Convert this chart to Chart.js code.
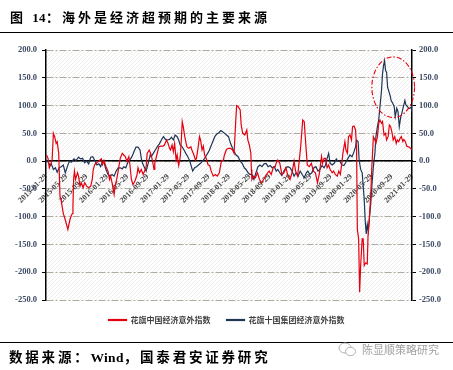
<!DOCTYPE html>
<html><head><meta charset="utf-8">
<script src="https://cdn.jsdelivr.net/npm/chart.js@4.4.0/dist/chart.umd.min.js"></script>
<style>
html,body{margin:0;padding:0;background:#fff;width:453px;height:370px;overflow:hidden;}
#wrap{position:relative;width:453px;height:370px;}
#c{position:absolute;left:0;top:0;}
.title{position:absolute;left:10px;top:11px;line-height:14px;font-weight:bold;font-size:13px;font-family:"Liberation Serif","Noto Sans CJK SC";letter-spacing:3px;color:#000;white-space:nowrap;}
.rule{position:absolute;left:0;width:453px;height:0;border-top:1.5px solid #000;}
.foot{position:absolute;left:9px;top:350px;line-height:15px;font-weight:bold;font-size:13.5px;font-family:"Liberation Serif","Noto Sans CJK SC";letter-spacing:2.8px;color:#000;white-space:nowrap;}
.ns{letter-spacing:0.3px;}
.wm{position:absolute;left:362px;top:343px;line-height:12px;font-size:11px;font-family:"Noto Sans CJK SC";color:#a0a0a0;white-space:nowrap;}
.icon{position:absolute;left:338px;top:342px;}
</style>
</head>
<body>
<div id="wrap">
<canvas id="c" width="453" height="370"></canvas>
<div class="title">图 <span class="ns">14</span>：海外是经济超预期的主要来源</div>
<div class="rule" style="top:31.5px"></div>
<div class="rule" style="top:341.5px"></div>
<div class="foot">数据来源：<span class="ns">Wind</span>，国泰君安证券研究</div>
<svg class="icon" width="20" height="16" viewBox="0 0 20 16"><ellipse cx="7" cy="6" rx="6" ry="5" fill="none" stroke="#b0b0b0" stroke-width="1"/><ellipse cx="12.5" cy="9.5" rx="5" ry="4.2" fill="#fff" stroke="#b0b0b0" stroke-width="1"/></svg>
<div class="wm">陈显顺策略研究</div>
</div>
<script>
// x values: months since 2015-01-29
const tickLabels = ['2015-01-29','2015-05-29','2015-09-29','2016-01-29','2016-05-29','2016-09-29','2017-01-29','2017-05-29','2017-09-29','2018-01-29','2018-05-29','2018-09-29','2019-01-29','2019-05-29','2019-09-29','2020-01-29','2020-05-29','2020-09-29','2021-01-29'];

const chinaT = [0.1,0.4,0.65,0.9,1.2,1.45,1.7,2.0,2.2,2.5,2.75,3.0,3.4,3.8,4.3,4.7,5.0,5.25,5.3,5.45,5.6,5.8,6.2,6.4,6.7,6.95,7.3,7.6,8.0,8.4,8.8,9.1,9.3,9.6,10.0,10.4,10.6,10.9,11.1,11.4,11.8,12.2,12.5,12.7,13.0,13.4,13.6,13.9,14.2,14.6,15.0,15.3,15.6,15.9,16.3,16.5,16.8,17.1,17.5,17.9,18.1,18.4,18.75,19.1,19.4,19.7,19.9,20.3,20.7,21.1,21.25,21.4,21.8,22.2,22.6,23.0,23.3,23.7,24.0,24.3,24.5,24.8,25.05,25.3,25.6,25.8,26.1,26.4,26.6,26.8,27.0,27.3,27.7,28.1,28.5,28.7,29.1,29.4,29.6,29.9,30.2,30.4,30.7,30.95,31.2,31.5,31.9,32.2,32.5,32.9,33.3,33.7,34.1,34.5,34.9,35.1,35.5,35.9,36.3,36.7,37.0,37.3,37.5,37.8,38.2,38.4,38.7,39.1,39.5,39.7,40.0,40.3,40.4,40.5,40.8,41.2,41.6,42.0,42.4,42.8,43.2,43.6,43.9,44.3,44.7,45.1,45.4,45.6,46.0,46.4,46.8,47.2,47.6,48.0,48.4,48.8,49.1,49.5,49.7,50.1,50.5,50.8,51.0,51.4,51.8,52.2,52.6,53.0,53.4,53.8,54.2,54.4,54.7,55.0,55.3,55.6,55.9,56.3,56.6,56.9,57.3,57.6,57.9,58.2,58.4,58.8,59.0,59.3,59.5,59.8,60.1,60.3,60.6,60.9,61.1,61.25,61.5,61.7,61.9,62.2,62.4,62.6,62.9,63.2,63.35,63.6,63.9,64.1,64.4,64.7,64.9,65.2,65.45,65.7,66.0,66.2,66.5,66.8,67.0,67.3,67.55,67.8,68.1,68.3,68.6,68.9,69.1,69.4,69.65,69.9,70.2,70.4,70.7,70.95,71.2,71.5,71.7,72.0];
const chinaV = [11,5,-12,-6,2,50,44,32,35,14,-63,-72,-94,-106,-123,-106,-97,-94,-80,-30,-18,-33,-21,-27,-45,-39,-48,-39,-45,-48,-45,-33,-15,-6,-3,0,2,4,-6,1,-10,-18,-33,-27,-39,-60,-45,-33,-18,5,14,11,8,0,8,-6,-33,-42,-36,-25,-12,-21,-15,-24,-18,-10,14,20,11,-7,-15,-4,11,26,27,27,29,38,32,23,20,29,17,32,2,11,-8,7,35,71,62,44,26,23,26,20,11,2,5,23,44,38,20,27,11,5,-7,-8,-18,-27,-24,-27,-21,0,2,11,21,23,23,20,14,68,100,98,92,65,50,47,56,38,29,14,-15,-33,-27,-30,-21,-33,-39,-33,-27,-21,-18,-24,-12,-10,0,2,-4,-24,-21,-12,-27,-33,-21,0,-18,-27,-10,26,74,71,44,-7,-10,-4,-18,-21,-39,-21,8,-4,5,5,-12,-7,-15,-21,-18,-24,-27,-18,-24,-4,14,35,20,14,44,47,38,62,63,56,20,-123,-140,-236,-188,-140,-140,-188,-183,-185,-134,-105,-57,-10,44,38,32,44,68,74,68,71,47,50,38,44,65,62,50,38,44,32,38,35,41,44,35,39,35,27,26,25,23,21];

const g10T = [0.1,0.5,0.8,1.05,1.45,1.85,2.2,2.6,3.0,3.4,3.8,4.2,4.6,5.0,5.5,5.9,6.4,6.8,7.2,7.6,8.0,8.4,8.8,9.2,9.6,10.0,10.4,10.75,11.1,11.4,11.8,12.2,12.6,13.0,13.4,13.8,14.2,14.6,15.0,15.3,15.7,16.1,16.5,16.9,17.3,17.7,18.1,18.5,18.75,19.0,19.3,19.7,20.1,20.5,20.7,21.1,21.5,21.9,22.3,22.7,23.1,23.5,23.9,24.3,24.7,25.05,25.4,25.8,26.1,26.4,26.75,27.15,27.5,27.9,28.3,28.6,28.85,29.25,29.6,30.0,30.4,30.8,31.2,31.6,32.0,32.4,32.8,33.2,33.6,34.0,34.4,34.75,35.15,35.5,35.9,36.3,36.7,37.0,37.4,37.8,38.2,38.6,39.0,39.35,39.75,40.1,40.5,40.9,41.3,41.7,42.1,42.5,42.9,43.3,43.7,44.1,44.5,44.9,45.3,45.6,46.0,46.4,46.8,47.2,47.6,48.0,48.4,48.8,49.2,49.6,50.0,50.4,50.8,51.2,51.5,51.9,52.3,52.7,53.1,53.5,53.9,54.3,54.7,55.0,55.3,55.6,55.9,56.3,56.7,57.1,57.4,57.8,58.2,58.6,59.0,59.4,59.8,60.2,60.6,60.9,61.1,61.4,61.6,61.9,62.2,62.4,62.6,62.8,63.0,63.2,63.4,63.6,63.9,64.1,64.4,64.7,64.9,65.2,65.45,65.7,66.0,66.2,66.4,66.6,66.8,67.0,67.2,67.4,67.7,67.9,68.2,68.5,68.7,69.0,69.25,69.5,69.8,70.0,70.3,70.6,70.8,71.1,71.35,71.6,71.9,72.0];
const g10V = [2,-3,-8,-5,-15,-12,-20,-12,-10,-7,-21,-10,0,-2,4,1,7,4,5,-3,0,-5,7,8,1,-7,-5,-10,0,-2,-15,-24,-27,-24,-27,-18,-12,-12,-14,-10,-12,-2,2,8,17,25,25,20,5,-4,-10,-18,-4,11,8,14,20,26,31,38,44,39,38,39,43,38,47,44,38,29,26,20,14,8,0,-10,-18,-12,-10,-7,-4,0,5,11,17,26,35,44,49,51,55,53,50,47,44,32,23,17,11,8,0,-4,-12,-15,-21,-24,-24,-33,-21,-10,-7,-10,-5,-4,-10,-8,-12,-10,-18,-15,-21,-26,-18,-12,-10,-12,-18,-27,-21,-27,-18,-24,-30,-21,-18,-24,-21,-12,-10,-18,-15,-8,-12,-7,5,14,-4,-7,-4,4,0,0,-7,-8,-2,5,11,8,17,26,38,35,2,-15,-21,-45,-69,-108,-131,-114,-126,-105,-75,-45,-10,14,44,62,74,98,127,157,172,181,163,160,133,127,118,109,104,98,80,95,89,62,80,86,98,109,101,98,95,95,98,88];

const seriesNames = ['花旗中国经济意外指数','花旗十国集团经济意外指数'];

const hatch = {
  id:'hatch',
  beforeDraw(chart){
    const {ctx, chartArea:a} = chart;
    ctx.save();
    ctx.beginPath(); ctx.rect(a.left,a.top,a.right-a.left,a.bottom-a.top); ctx.clip();
    ctx.strokeStyle='#eeeeee'; ctx.lineWidth=1;
    const h=a.bottom-a.top;
    ctx.beginPath();
    for(let x=a.left-h; x<a.right; x+=4){
      ctx.moveTo(x, a.bottom); ctx.lineTo(x+h, a.top);
    }
    ctx.stroke();
    ctx.restore();
  }
};
const ring = {
  id:'ring',
  afterDatasetsDraw(chart){
    const {ctx, scales:{x,y}} = chart;
    const cx=x.getPixelForValue(68.3), cy=y.getPixelForValue(133);
    const rx=x.getPixelForValue(72.5)-cx, ry=cy-y.getPixelForValue(187.6);
    ctx.save();
    ctx.strokeStyle='#e3000f'; ctx.lineWidth=1.1; ctx.setLineDash([5,2,1.5,2]);
    ctx.beginPath(); ctx.ellipse(cx,cy,rx,ry,0,0,Math.PI*2); ctx.stroke();
    ctx.restore();
  }
};

const tickFont = {family:'"Liberation Serif"', size:8.5, weight:'bold'};
const yTicks = {stepSize:50, padding:5, color:'#3d4a62', font:tickFont, callback:v=>v.toFixed(1)};

new Chart(document.getElementById('c'), {
  type:'line',
  data:{datasets:[
    {label:seriesNames[0], data:chinaT.map((t,i)=>({x:t,y:chinaV[i]})), borderColor:'#e3000f', backgroundColor:'#e3000f', borderWidth:1.2, pointRadius:0, tension:0, yAxisID:'y'},
    {label:seriesNames[1], data:g10T.map((t,i)=>({x:t,y:g10V[i]})), borderColor:'#1f3556', backgroundColor:'#1f3556', borderWidth:1.2, pointRadius:0, tension:0, yAxisID:'y'}
  ]},
  options:{
    responsive:false, animation:false, devicePixelRatio:1,
    layout:{padding:{top:50,bottom:36,left:0,right:0}},
    plugins:{
      legend:{position:'bottom', labels:{boxWidth:18, boxHeight:1, padding:16, color:'#404040', font:{family:'"Noto Sans CJK SC"', size:8, weight:'bold'}}},
      tooltip:{enabled:false}
    },
    scales:{
      x:{type:'linear', min:0, max:72, position:{y:0},
         grid:{display:false}, border:{display:true, color:'#000', width:1.5},
         afterBuildTicks:s=>{ s.ticks = tickLabels.map((l,i)=>({value:i*4})); },
         ticks:{autoSkip:false, minRotation:45, maxRotation:45, padding:3, color:'#4a4a4a', font:{family:'"Liberation Serif"', size:8, weight:'bold'},
                callback:(v)=>tickLabels[Math.round(v/4)]}},
      y:{position:'left', min:-250, max:200, ticks:yTicks,
         grid:{color:'#b0aba0', lineWidth:1, tickLength:4, tickColor:'#000', tickBorderDash:[]},
         border:{color:'#000', width:1.5, dash:[7,2,2,2]},
         afterFit:s=>{ s.width=46; }},
      y2:{position:'right', min:-250, max:200, ticks:Object.assign({}, yTicks, {padding:3}),
         grid:{drawOnChartArea:false, tickLength:4, tickColor:'#000'},
         border:{color:'#000', width:1.5},
         afterFit:s=>{ s.width=41; }}
    }
  },
  plugins:[hatch, ring]
});
</script>
</body></html>
